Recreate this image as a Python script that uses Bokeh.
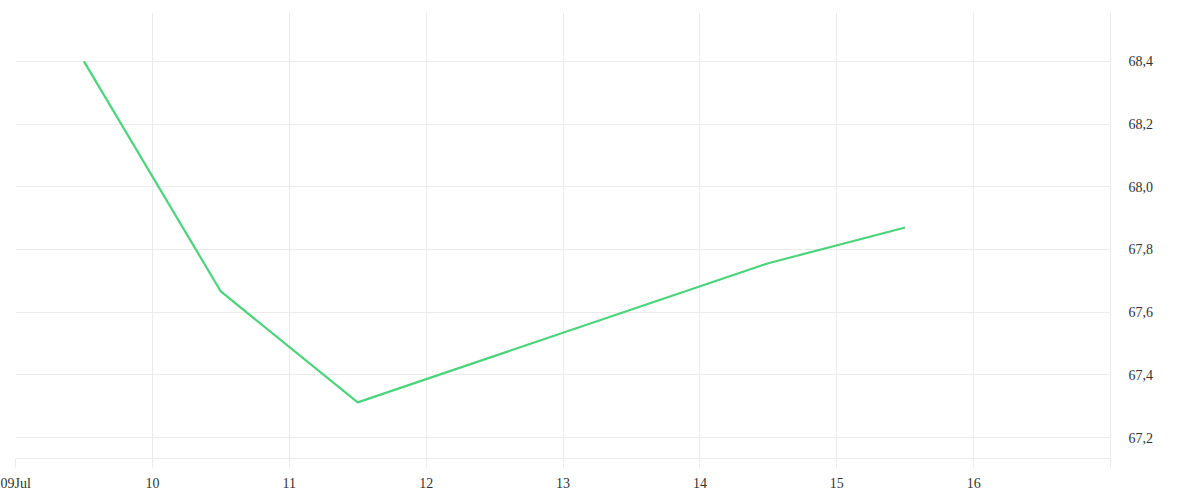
import pandas as pd
from bokeh.plotting import figure
from bokeh.models import Range1d, FixedTicker, CustomJSTickFormatter
from bokeh.embed import file_html
from bokeh.resources import INLINE

# Data
dates = ["2024-07-09 12:00", "2024-07-10 12:00", "2024-07-11 12:00", "2024-07-14 12:00", "2024-07-15 12:00"]
values = [68.40, 67.666, 67.312, 67.756, 67.870]
y_ticks = [67.2, 67.4, 67.6, 67.8, 68.0, 68.2, 68.4]
x_tick_days = ["2024-07-09", "2024-07-10", "2024-07-11", "2024-07-12", "2024-07-13",
               "2024-07-14", "2024-07-15", "2024-07-16", "2024-07-17"]

xs = pd.to_datetime(dates)
x_ticks_ms = [pd.Timestamp(d).value / 1e6 for d in x_tick_days]

GRID = "#ebebeb"
FONT = "Liberation Serif"
TXT = "#333333"

p = figure(width=1190, height=495, output_backend="svg", toolbar_location=None,
           x_axis_type="datetime", y_axis_location="right",
           x_range=Range1d(pd.Timestamp("2024-07-09"), pd.Timestamp("2024-07-17")),
           y_range=Range1d(67.133, 68.556),
           min_border_left=15, min_border_top=12, min_border_bottom=37, min_border_right=80)

p.outline_line_color = None
p.background_fill_color = "white"
p.border_fill_color = "white"

p.line(xs, values, line_color="#4cd47c", line_width=2.2)

xa = p.xaxis[0]
xa.ticker = FixedTicker(ticks=x_ticks_ms, minor_ticks=[])
xa.formatter = CustomJSTickFormatter(code="""
const d = new Date(tick);
const day = d.getUTCDate();
const months = ['Jan','Feb','Mar','Apr','May','Jun','Jul','Aug','Sep','Oct','Nov','Dec'];
if (index == 0) { return String(day).padStart(2,'0') + months[d.getUTCMonth()]; }
if (index == ticks.length - 1) { return ''; }
return String(day);
""")
xa.axis_line_color = GRID
xa.major_tick_line_color = GRID
xa.major_tick_out = 9
xa.major_tick_in = 0
xa.minor_tick_line_color = None
xa.major_label_text_font = FONT
xa.major_label_text_font_size = "14px"
xa.major_label_text_color = TXT
xa.major_label_standoff = 8

ya = p.yaxis[0]
ya.ticker = FixedTicker(ticks=y_ticks, minor_ticks=[])
ya.formatter = CustomJSTickFormatter(code="return tick.toFixed(1).replace('.', ',');")
ya.axis_line_color = GRID
ya.major_tick_line_color = None
ya.minor_tick_line_color = None
ya.major_label_text_font = FONT
ya.major_label_text_font_size = "14px"
ya.major_label_text_color = TXT
ya.major_label_standoff = 12

p.xgrid.ticker = FixedTicker(ticks=x_ticks_ms)
p.xgrid.grid_line_color = GRID
p.ygrid.ticker = FixedTicker(ticks=y_ticks)
p.ygrid.grid_line_color = GRID

open("out.html", "w").write(file_html(p, INLINE))
